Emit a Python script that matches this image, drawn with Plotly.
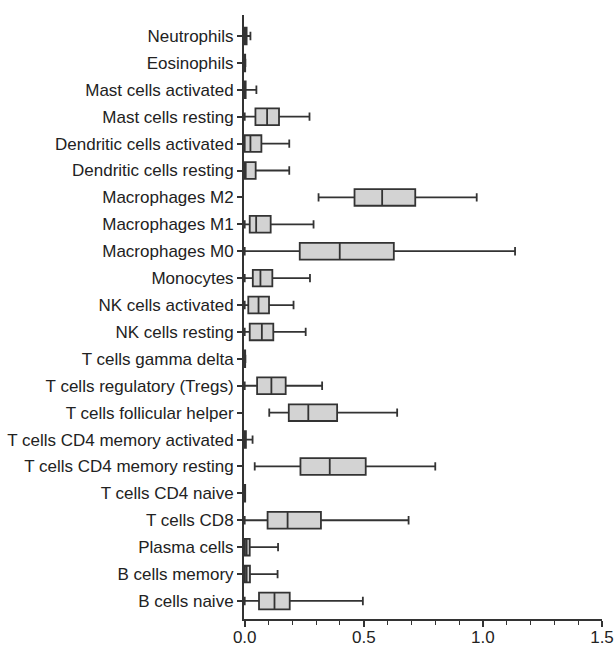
import plotly.graph_objects as go

categories = [
    "Neutrophils", "Eosinophils", "Mast cells activated", "Mast cells resting",
    "Dendritic cells activated", "Dendritic cells resting", "Macrophages M2",
    "Macrophages M1", "Macrophages M0", "Monocytes", "NK cells activated",
    "NK cells resting", "T cells gamma delta", "T cells regulatory (Tregs)",
    "T cells follicular helper", "T cells CD4 memory activated",
    "T cells CD4 memory resting", "T cells CD4 naive", "T cells CD8",
    "Plasma cells", "B cells memory", "B cells naive",
]
lower = [0.0, 0.0, 0.0, 0.0, 0.0, 0.0, 0.310, 0.0, 0.0, 0.0, 0.0,
         0.0, 0.0, 0.0, 0.103, 0.0, 0.042, 0.0, 0.0, 0.0, 0.0, 0.0]
q1 = [0.0, 0.0, 0.0, 0.045, 0.0, 0.0, 0.461, 0.021, 0.231, 0.034, 0.015,
      0.021, 0.0, 0.052, 0.185, 0.0, 0.234, 0.0, 0.096, 0.0, 0.0, 0.060]
median = [0.0, 0.0, 0.0, 0.094, 0.024, 0.0, 0.577, 0.048, 0.399, 0.066, 0.058,
          0.072, 0.0, 0.112, 0.267, 0.0, 0.357, 0.0, 0.180, 0.008, 0.008, 0.125]
q3 = [0.008, 0.002, 0.004, 0.144, 0.070, 0.046, 0.716, 0.109, 0.626, 0.116, 0.102,
      0.120, 0.002, 0.172, 0.388, 0.005, 0.508, 0.002, 0.320, 0.021, 0.022, 0.189]
upper = [0.024, 0.003, 0.049, 0.272, 0.187, 0.187, 0.974, 0.289, 1.135, 0.274, 0.205,
         0.256, 0.003, 0.325, 0.640, 0.033, 0.800, 0.002, 0.688, 0.140, 0.138, 0.496]
x_ticks = [0.0, 0.5, 1.0, 1.5]
x_ticklabels = ["0.0", "0.5", "1.0", "1.5"]

FONT = "Liberation Sans, Arial, sans-serif"
INK = "#333333"

fig = go.Figure(go.Box(
    y=categories, q1=q1, median=median, q3=q3,
    lowerfence=lower, upperfence=upper,
    orientation="h", boxpoints=False,
    fillcolor="#d3d3d3",
    line=dict(color=INK, width=1.8),
    width=0.62, whiskerwidth=0.5,
    showlegend=False, hoverinfo="skip",
))

fig.update_layout(
    width=616, height=646,
    margin=dict(l=244, r=14, t=15, b=27, autoexpand=False),
    paper_bgcolor="white", plot_bgcolor="white",
    font=dict(family=FONT, color="#222222"),
    xaxis=dict(
        range=[-0.003, 1.5], tickvals=x_ticks, ticktext=x_ticklabels,
        automargin=False,
        showgrid=False, zeroline=False,
        showline=True, linecolor=INK, linewidth=2,
        ticks="outside", ticklen=6, tickwidth=1.5, tickcolor=INK,
        ticklabelstandoff=-4,
        tickfont=dict(size=17, family=FONT, color="#222222"),
        minor=dict(dtick=0.1, tick0=0, ticks="outside", ticklen=4,
                   tickwidth=1.2, tickcolor=INK, showgrid=False),
    ),
    yaxis=dict(
        type="category", categoryorder="array", categoryarray=categories,
        range=[21.67, -0.78], automargin=False,
        showgrid=False, zeroline=False,
        showline=True, linecolor=INK, linewidth=2,
        ticks="outside", ticklen=5, tickwidth=1.5, tickcolor=INK,
        tickfont=dict(size=17, family=FONT, color="#222222"),
    ),
)

fig.write_html("out.html", config={"displayModeBar": False})

# remove the browser's default page margin so the figure sits at (0, 0)
with open("out.html", "r", encoding="utf-8") as f:
    html = f.read()
html = html.replace("<head>", "<head><style>html,body{margin:0;padding:0;overflow:hidden;}</style>", 1)
with open("out.html", "w", encoding="utf-8") as f:
    f.write(html)
